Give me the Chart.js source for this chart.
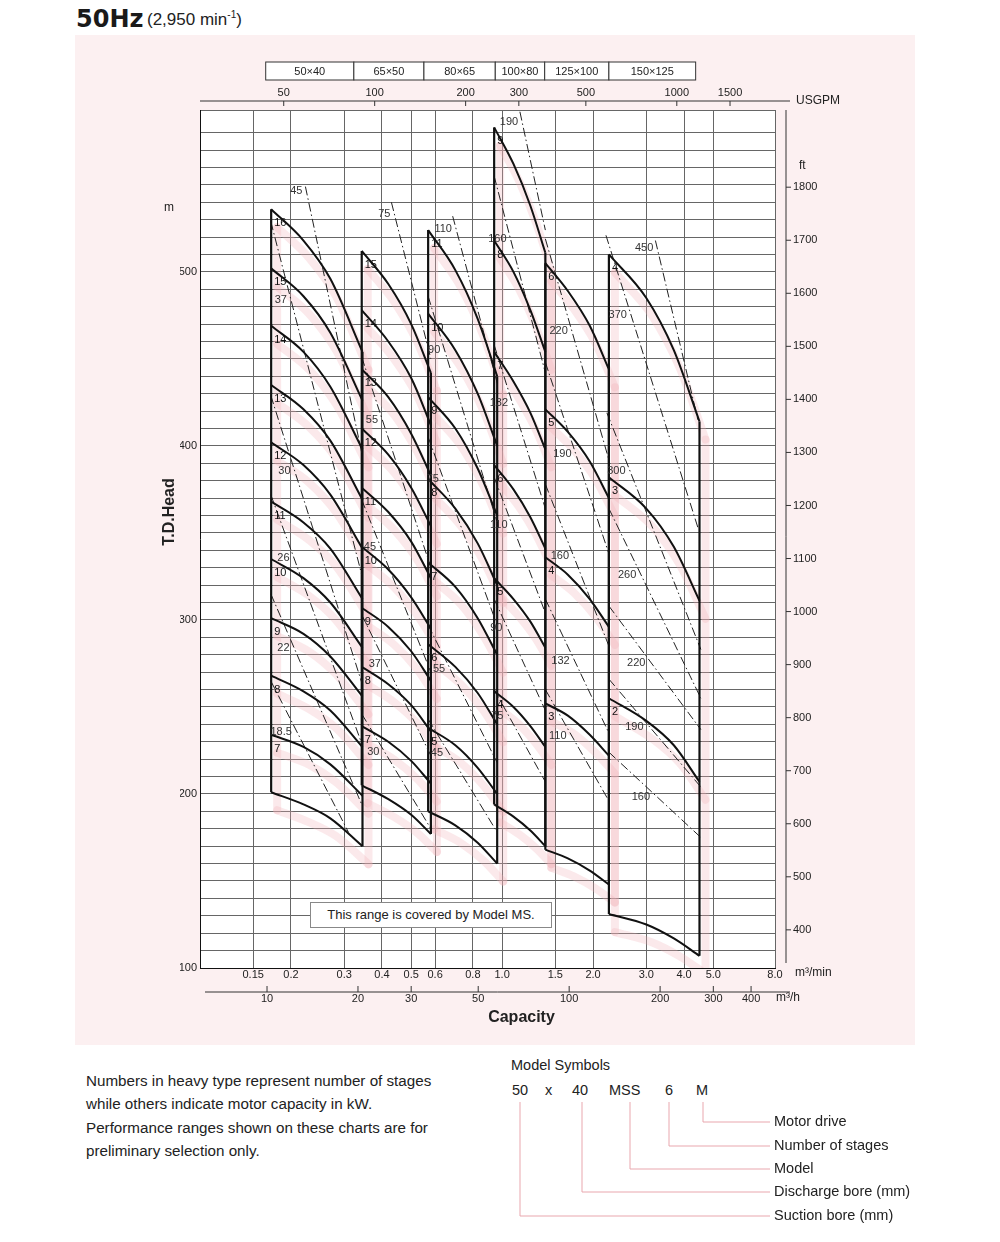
<!DOCTYPE html>
<html>
<head>
<meta charset="utf-8">
<script src="https://cdn.jsdelivr.net/npm/chart.js@4.4.1/dist/chart.umd.min.js"></script>
<style>
  body { margin:0; width:1000px; height:1242px; background:#fff; position:relative; overflow:hidden;
         font-family:"Liberation Sans", Arial, sans-serif; color:#222; }
  #panel { position:absolute; left:75px; top:35px; width:840px; height:1010px; background:#fcf0f1; }
  #wrap { position:absolute; left:0; top:0; width:1000px; height:1045px; }
  .t50 { position:absolute; left:76px; top:5px; font:bold 24px "DejaVu Sans", sans-serif; color:#1a1a1a; }
  .rpm { position:absolute; left:147px; top:9px; font-size:17px; color:#222; }
  .ms { position:absolute; left:310px; top:902px; width:240px; height:24px; background:#fff;
        border:1px solid #888; font-size:13px; line-height:24px; text-align:center; }
  .note { position:absolute; left:86px; top:1069px; font-size:15.2px; line-height:23.3px; color:#222; }
  .sym { position:absolute; font-size:14.5px; color:#222; }
</style>
</head>
<body>
<div id="panel"></div>
<div class="t50">50Hz</div>
<div class="rpm">(2,950 min<sup style="font-size:10px">-1</sup>)</div>
<div id="wrap"><canvas id="pumpChart" width="1000" height="1045"></canvas></div>
<div class="ms">This range is covered by Model MS.</div>
<div class="note">Numbers in heavy type represent number of stages<br>while others indicate motor capacity in kW.<br>Performance ranges shown on these charts are for<br>preliminary selection only.</div>
<div class="sym" style="left:511px;top:1057px">Model Symbols</div>
<div class="sym" style="left:512px;top:1082px">50</div>
<div class="sym" style="left:545px;top:1082px">x</div>
<div class="sym" style="left:572px;top:1082px">40</div>
<div class="sym" style="left:609px;top:1082px">MSS</div>
<div class="sym" style="left:665px;top:1082px">6</div>
<div class="sym" style="left:696px;top:1082px">M</div>
<svg style="position:absolute;left:0;top:0" width="1000" height="1242">
  <g stroke="#e9a7ae" stroke-width="1" fill="none">
    <polyline points="703,1102 703,1122 770,1122"/>
    <polyline points="669,1102 669,1146 770,1146"/>
    <polyline points="630,1102 630,1169 770,1169"/>
    <polyline points="582,1102 582,1192 770,1192"/>
    <polyline points="520,1102 520,1216 770,1216"/>
  </g>
</svg>
<div class="sym" style="left:774px;top:1113px">Motor drive</div>
<div class="sym" style="left:774px;top:1137px">Number of stages</div>
<div class="sym" style="left:774px;top:1160px">Model</div>
<div class="sym" style="left:774px;top:1183px">Discharge bore (mm)</div>
<div class="sym" style="left:774px;top:1207px">Suction bore (mm)</div>

<script>
// ---- axes ----
var qTicks = [0.15, 0.2, 0.3, 0.4, 0.5, 0.6, 0.8, 1.0, 1.5, 2.0, 3.0, 4.0, 5.0, 8.0];   // m3/min
var usgpmTicks = [50, 100, 200, 300, 500, 1000, 1500];
var m3hTicks = [10, 20, 30, 50, 100, 200, 300, 400];
var ftTicks = [400, 500, 600, 700, 800, 900, 1000, 1100, 1200, 1300, 1400, 1500, 1600, 1700, 1800];

// ---- models (bore sizes) and their capacity span in m3/min ----
var modelNames = ['50\u00d740', '65\u00d750', '80\u00d765', '100\u00d780', '125\u00d7100', '150\u00d7125'];
var modelSpan = [[0.165, 0.323], [0.323, 0.551], [0.551, 0.949], [0.949, 1.383], [1.383, 2.256], [2.256, 4.37]];

// ---- stage curves: capacity points, stage numbers, head (m) per stage; last head row = lower limit ----
var q5040 = [0.172, 0.22, 0.27, 0.345];
var st5040 = [16, 15, 14, 13, 12, 11, 10, 9, 8, 7];
var hd5040 = [
  [536, 518, 496, 454], [502, 486, 465, 426], [469, 454, 434, 398], [435, 421, 403, 369],
  [402, 389, 372, 341], [368, 356, 341, 312], [335, 324, 310, 284], [301, 292, 279, 256],
  [268, 259, 248, 227], [234, 227, 217, 199], [201, 194, 186, 170]
];
var q6550 = [0.343, 0.42, 0.50, 0.581];
var st6550 = [15, 14, 13, 12, 11, 10, 9, 8, 7];
var hd6550 = [
  [512, 493, 470, 442], [478, 460, 439, 412], [444, 428, 407, 383], [410, 395, 376, 354],
  [376, 362, 345, 324], [342, 329, 313, 295], [307, 296, 282, 265], [273, 263, 251, 236],
  [239, 230, 219, 206], [205, 197, 188, 177]
];
var q8065 = [0.569, 0.70, 0.83, 0.963];
var st8065 = [11, 10, 9, 8, 7, 6, 5];
var hd8065 = [
  [524, 501, 473, 440], [476, 455, 430, 400], [428, 410, 387, 360], [381, 364, 344, 320],
  [333, 319, 301, 280], [286, 273, 258, 240], [238, 228, 215, 200], [190, 182, 172, 160]
];
var q10080 = [0.941, 1.09, 1.24, 1.39];
var st10080 = [9, 8, 7, 6, 5, 4];
var hd10080 = [
  [583, 562, 538, 511], [518, 500, 478, 454], [454, 437, 419, 398], [389, 375, 359, 341],
  [324, 312, 299, 284], [259, 250, 239, 227], [194, 187, 179, 170]
];
var q125100 = [1.39, 1.65, 1.95, 2.256];
var st125100 = [6, 5, 4, 3];
var hd125100 = [
  [505, 489, 469, 444], [421, 408, 391, 370], [336, 326, 312, 296], [252, 245, 234, 222],
  [168, 163, 156, 148]
];
var q150125 = [2.256, 3.0, 3.7, 4.5];
var st150125 = [4, 3, 2];
var hd150125 = [
  [510, 485, 455, 414], [382, 364, 342, 311], [255, 242, 228, 207], [131, 125, 117, 107]
];

// ---- motor kW lines: [q1, h1, q2, h2] and where along the line its label sits ----
var kw5040 = [45, 37, 30, 26, 22, 18.5];
var kl5040 = [[0.2233, 549, 0.343, 396], [0.1715, 529, 0.343, 326], [0.1715, 429, 0.343, 264],
              [0.1715, 372, 0.343, 229], [0.1715, 315, 0.343, 194], [0.1715, 265, 0.31, 178]];
var kt5040 = [0, 0.21, 0.25, 0.24, 0.24, 0.31];
var kw6550 = [75, 55, 45, 37, 30];
var kl6550 = [[0.430, 540, 0.581, 450], [0.343, 451, 0.581, 330], [0.343, 369, 0.581, 270],
              [0.343, 303, 0.581, 222], [0.343, 246, 0.581, 180]];
var kt6550 = [0.05, 0.28, 0.25, 0.32, 0.3];
var kw8065 = [110, 90, 75, 55, 45];
var kl8065 = [[0.686, 532, 0.963, 436], [0.569, 486, 0.963, 356], [0.569, 405, 0.963, 297],
              [0.569, 297, 0.963, 218], [0.569, 243, 0.963, 178]];
var kt8065 = [0.05, 0.22, 0.2, 0.29, 0.26];
var kw10080 = [190, 160, 132, 110, 90, 75];
var kl10080 = [[1.145, 592, 1.39, 524], [0.941, 555, 1.39, 442], [0.941, 458, 1.39, 364],
               [0.941, 382, 1.39, 304], [0.941, 312, 1.39, 248], [0.941, 260, 1.39, 207]];
var kt10080 = [0.05, 0.3, 0.33, 0.32, 0.22, 0.24];
var kw125100 = [220, 190, 160, 132, 110];
var kl125100 = [[1.39, 519, 2.256, 392], [1.39, 448, 2.256, 338], [1.39, 378, 2.256, 285],
                [1.39, 312, 2.256, 235], [1.39, 260, 2.256, 196]];
var kt125100 = [0.4, 0.46, 0.42, 0.43, 0.38];
var kw150125 = [450, 370, 300, 260, 220, 190, 160];
var kl150125 = [[3.216, 518, 4.446, 415], [2.206, 521, 4.446, 353], [2.222, 419, 4.547, 283],
                [2.256, 364, 4.547, 255], [2.256, 308, 4.547, 237], [2.256, 266, 4.547, 204],
                [2.256, 224, 4.547, 175]];
var kt150125 = [0.02, 0.26, 0.23, 0.33, 0.43, 0.41, 0.48];

var pumps = [
  { q: q5040, st: st5040, hd: hd5040, kw: kw5040, kl: kl5040, kt: kt5040 },
  { q: q6550, st: st6550, hd: hd6550, kw: kw6550, kl: kl6550, kt: kt6550 },
  { q: q8065, st: st8065, hd: hd8065, kw: kw8065, kl: kl8065, kt: kt8065 },
  { q: q10080, st: st10080, hd: hd10080, kw: kw10080, kl: kl10080, kt: kt10080 },
  { q: q125100, st: st125100, hd: hd125100, kw: kw125100, kl: kl125100, kt: kt125100 },
  { q: q150125, st: st150125, hd: hd150125, kw: kw150125, kl: kl150125, kt: kt150125 }
];

// build the datasets
var datasets = [];
pumps.forEach(function (p) {
  p.hd.forEach(function (row, i) {
    datasets.push({
      kind: 'stage', stage: p.st[i],
      data: row.map(function (h, j) { return { x: p.q[j], y: h }; }),
      borderColor: '#111', borderWidth: 2, pointRadius: 0, cubicInterpolationMode: 'monotone'
    });
  });
  // outline: left and right edges of the range
  var top = p.hd[0], bot = p.hd[p.hd.length - 1], n = p.q.length - 1;
  [[0, top[0], bot[0]], [n, top[n], bot[n]]].forEach(function (e) {
    datasets.push({
      kind: 'edge',
      data: [{ x: p.q[e[0]], y: e[1] }, { x: p.q[e[0]], y: e[2] }],
      borderColor: '#111', borderWidth: 2.2, pointRadius: 0
    });
  });
  p.kw.forEach(function (k, i) {
    var l = p.kl[i];
    datasets.push({
      kind: 'kw', kw: k, at: p.kt[i],
      data: [{ x: l[0], y: l[1] }, { x: l[2], y: l[3] }],
      borderColor: '#222', borderWidth: 1, borderDash: [9, 3, 1.5, 3], pointRadius: 0
    });
  });
});

var fmtQ = function (v) { return v >= 1 ? v.toFixed(1) : String(v); };

// pale pink bands printed behind the curves
var pinkBands = {
  id: 'pinkBands',
  beforeDatasetsDraw: function (chart) {
    var ctx = chart.ctx, a = chart.chartArea;
    ctx.save();
    ctx.beginPath(); ctx.rect(a.left, a.top, a.right - a.left, a.bottom - a.top); ctx.clip();
    ctx.translate(6, 18);
    ctx.strokeStyle = 'rgba(240,175,182,0.28)';
    ctx.lineWidth = 8; ctx.lineCap = 'round';
    chart.data.datasets.forEach(function (ds, i) {
      if (ds.kind !== 'stage' && ds.kind !== 'edge') return;
      var pts = chart.getDatasetMeta(i).data;
      ctx.beginPath();
      ctx.moveTo(pts[0].x, pts[0].y);
      for (var j = 1; j < pts.length; j++) {
        var pr = pts[j - 1], pt = pts[j];
        if (pr.cp2x !== undefined && ds.kind === 'stage') ctx.bezierCurveTo(pr.cp2x, pr.cp2y, pt.cp1x, pt.cp1y, pt.x, pt.y);
        else ctx.lineTo(pt.x, pt.y);
      }
      ctx.stroke();
    });
    ctx.restore();
  }
};

// stage numbers and kW labels
var curveLabels = {
  id: 'curveLabels',
  afterDatasetsDraw: function (chart) {
    var ctx = chart.ctx;
    ctx.save();
    ctx.font = '11px "Liberation Sans", Arial, sans-serif';
    ctx.textBaseline = 'middle';
    chart.data.datasets.forEach(function (ds, i) {
      var pts = chart.getDatasetMeta(i).data;
      if (ds.kind === 'stage' && ds.stage) {
        ctx.fillStyle = '#111'; ctx.textAlign = 'left';
        ctx.fillText(String(ds.stage), pts[0].x + 3, pts[0].y + 14);
      } else if (ds.kind === 'kw') {
        var x = pts[0].x + (pts[1].x - pts[0].x) * ds.at, y = pts[0].y + (pts[1].y - pts[0].y) * ds.at;
        ctx.fillStyle = '#333'; ctx.textAlign = 'right';
        ctx.fillText(String(ds.kw), x - 3, y + 4);
      }
    });
    ctx.restore();
  }
};

// secondary scales, model strip and titles
var extras = {
  id: 'extras',
  afterDraw: function (chart) {
    var ctx = chart.ctx, xs = chart.scales.x, ys = chart.scales.y, a = chart.chartArea;
    ctx.save();
    ctx.strokeStyle = '#333'; ctx.fillStyle = '#222'; ctx.lineWidth = 1;
    ctx.font = '11px "Liberation Sans", Arial, sans-serif';
    ctx.textBaseline = 'middle';
    function seg(x1, y1, x2, y2) { ctx.beginPath(); ctx.moveTo(x1, y1); ctx.lineTo(x2, y2); ctx.stroke(); }

    // model strip
    var sy = a.top - 48, sh = 18;
    ctx.textAlign = 'center';
    modelNames.forEach(function (nm, i) {
      var x1 = xs.getPixelForValue(modelSpan[i][0]), x2 = xs.getPixelForValue(modelSpan[i][1]);
      ctx.fillStyle = '#fff'; ctx.fillRect(x1, sy, x2 - x1, sh);
      ctx.strokeRect(x1, sy, x2 - x1, sh);
      ctx.fillStyle = '#222'; ctx.fillText(nm, (x1 + x2) / 2, sy + sh / 2 + 1);
    });

    // USGPM
    var uy = a.top - 9;
    seg(a.left, uy, a.right + 15, uy);
    usgpmTicks.forEach(function (g) {
      var px = xs.getPixelForValue(g / 264.17);
      seg(px, uy, px, uy + 5);
      ctx.fillText(String(g), px, uy - 8);
    });
    ctx.textAlign = 'left';
    ctx.font = '12px "Liberation Sans", Arial, sans-serif';
    ctx.fillText('USGPM', a.right + 21, uy);

    // m3/h
    ctx.font = '11px "Liberation Sans", Arial, sans-serif';
    var hy = a.bottom + 24;
    seg(a.left + 5, hy, a.right + 15, hy);
    ctx.textAlign = 'center';
    m3hTicks.forEach(function (v) {
      var px = xs.getPixelForValue(v / 60);
      seg(px, hy, px, hy - 6);
      ctx.fillText(String(v), px, hy + 7);
    });
    ctx.font = '12px "Liberation Sans", Arial, sans-serif';
    ctx.textAlign = 'left';
    ctx.fillText('m\u00b3/h', a.right + 1, hy + 6);
    ctx.fillText('m\u00b3/min', a.right + 20, a.bottom + 5);

    // ft
    var fx = a.right + 11;
    seg(fx, a.top, fx, a.bottom - 5);
    ctx.font = '11px "Liberation Sans", Arial, sans-serif';
    ftTicks.forEach(function (f) {
      var py = ys.getPixelForValue(f * 0.3048);
      seg(fx, py, fx + 5, py);
      ctx.fillText(String(f), fx + 7, py);
    });
    ctx.font = '12px "Liberation Sans", Arial, sans-serif';
    ctx.fillText('ft', fx + 13, ys.getPixelForValue(1800 * 0.3048) - 22);
    ctx.fillText('m', a.left - 36, ys.getPixelForValue(537));

    // titles
    ctx.font = 'bold 16px "Liberation Sans", Arial, sans-serif';
    ctx.textAlign = 'center';
    ctx.fillText('Capacity', (a.left + a.right) / 2 + 34, a.bottom + 50);
    ctx.translate(a.left - 30, ys.getPixelForValue(362));
    ctx.rotate(-Math.PI / 2);
    ctx.fillText('T.D.Head', 0, 0);
    ctx.restore();
  }
};

new Chart(document.getElementById('pumpChart').getContext('2d'), {
  type: 'line',
  data: { datasets: datasets },
  options: {
    responsive: false,
    animation: false,
    layout: { padding: { left: 180, right: 225, top: 110, bottom: 57 } },
    plugins: { legend: { display: false }, tooltip: { enabled: false } },
    scales: {
      x: {
        type: 'logarithmic', min: 0.1, max: 8,
        afterBuildTicks: function (s) { s.ticks = qTicks.map(function (v) { return { value: v }; }); },
        afterFit: function (s) { s.height = 20; },
        ticks: { callback: function (v) { return fmtQ(v); }, autoSkip: false, maxRotation: 0, padding: 0,
                 color: '#222', font: { size: 11, family: 'Liberation Sans' } },
        grid: { color: '#666', lineWidth: 1, drawTicks: false },
        border: { color: '#111', width: 1 }
      },
      y: {
        type: 'linear', min: 100, max: 593,
        afterFit: function (s) { s.width = 20; },
        ticks: { stepSize: 10, autoSkip: false, padding: 3, color: '#222',
                 font: { size: 11, family: 'Liberation Sans' },
                 callback: function (v) { return v % 100 === 0 ? v : ''; } },
        grid: { color: '#666', lineWidth: 1, drawTicks: false },
        border: { color: '#111', width: 1 }
      }
    }
  },
  plugins: [pinkBands, curveLabels, extras, {
    id: 'whiteArea',
    beforeDraw: function (chart) {
      var a = chart.chartArea, ctx = chart.ctx;
      ctx.save(); ctx.fillStyle = '#fff';
      ctx.fillRect(a.left, a.top, a.right - a.left, a.bottom - a.top);
      ctx.restore();
    }
  }]
});
</script>
</body>
</html>
